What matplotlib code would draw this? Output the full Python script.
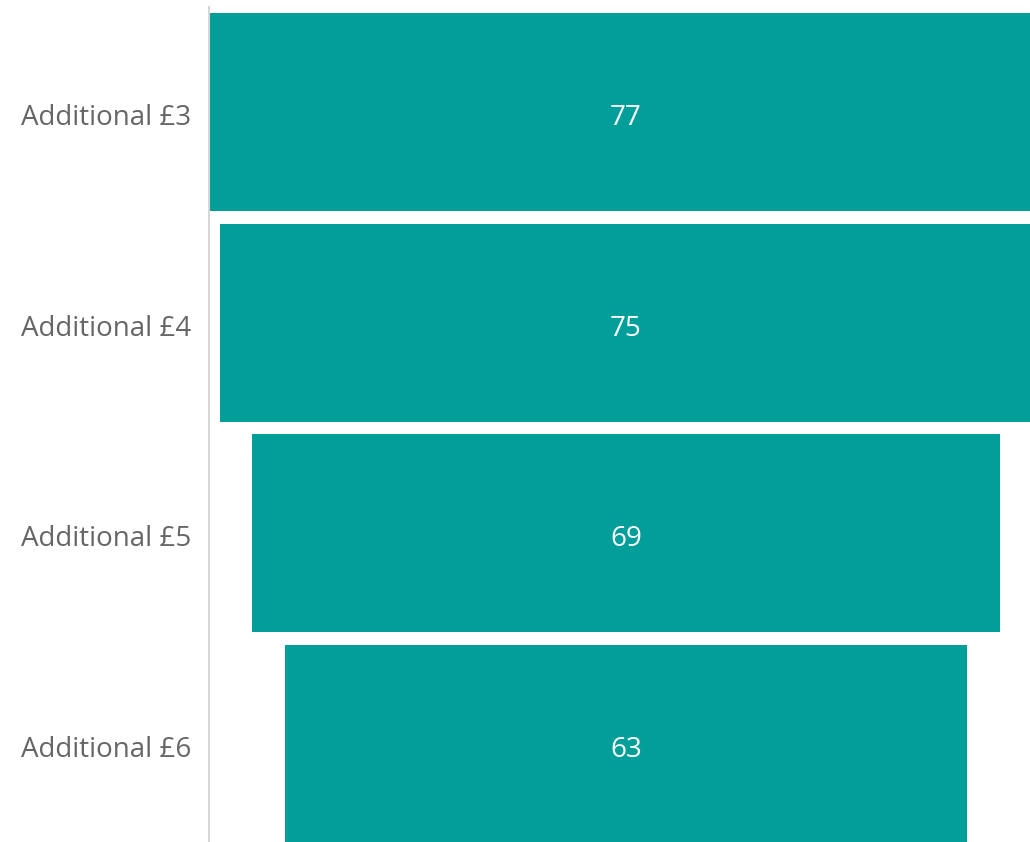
import matplotlib
matplotlib.use("Agg")
import matplotlib.pyplot as plt

categories = ["Additional £3", "Additional £4", "Additional £5", "Additional £6"]
values = [77, 75, 69, 63]

W, H = 1030, 842
fig = plt.figure(figsize=(W / 100, H / 100), dpi=100)
fig.patch.set_facecolor("white")
# axes extends slightly beyond the figure at right and bottom (clipped in the reference)
left_px, right_px, top_px, bot_px = 209, 1043, 7, 849
ax = fig.add_axes([left_px / W, 1 - bot_px / H, (right_px - left_px) / W, (bot_px - top_px) / H])

ypos = list(range(len(values)))
lefts = [-v / 2 for v in values]
ax.barh(ypos, values, left=lefts, height=0.94, color="#019E9A")

half = max(values) / 2
ax.set_xlim(-half, half)
ax.set_ylim(len(values) - 0.5, -0.5)

for y, v in zip(ypos, values):
    ax.text(0, y + 0.012, str(v), color="white", ha="center", va="center_baseline",
            fontsize=20, family="Open Sans")

ax.set_yticks([y + 0.012 for y in ypos])
ax.set_yticklabels(categories, fontsize=20, color="#666666", family="Open Sans")
ax.tick_params(axis="y", length=0, pad=13)
ax.set_xticks([])
for s in ["top", "right", "bottom"]:
    ax.spines[s].set_visible(False)
ax.spines["left"].set_color("#d6d6d6")
ax.spines["left"].set_linewidth(1.5)

fig.savefig("out.png", dpi=100)
